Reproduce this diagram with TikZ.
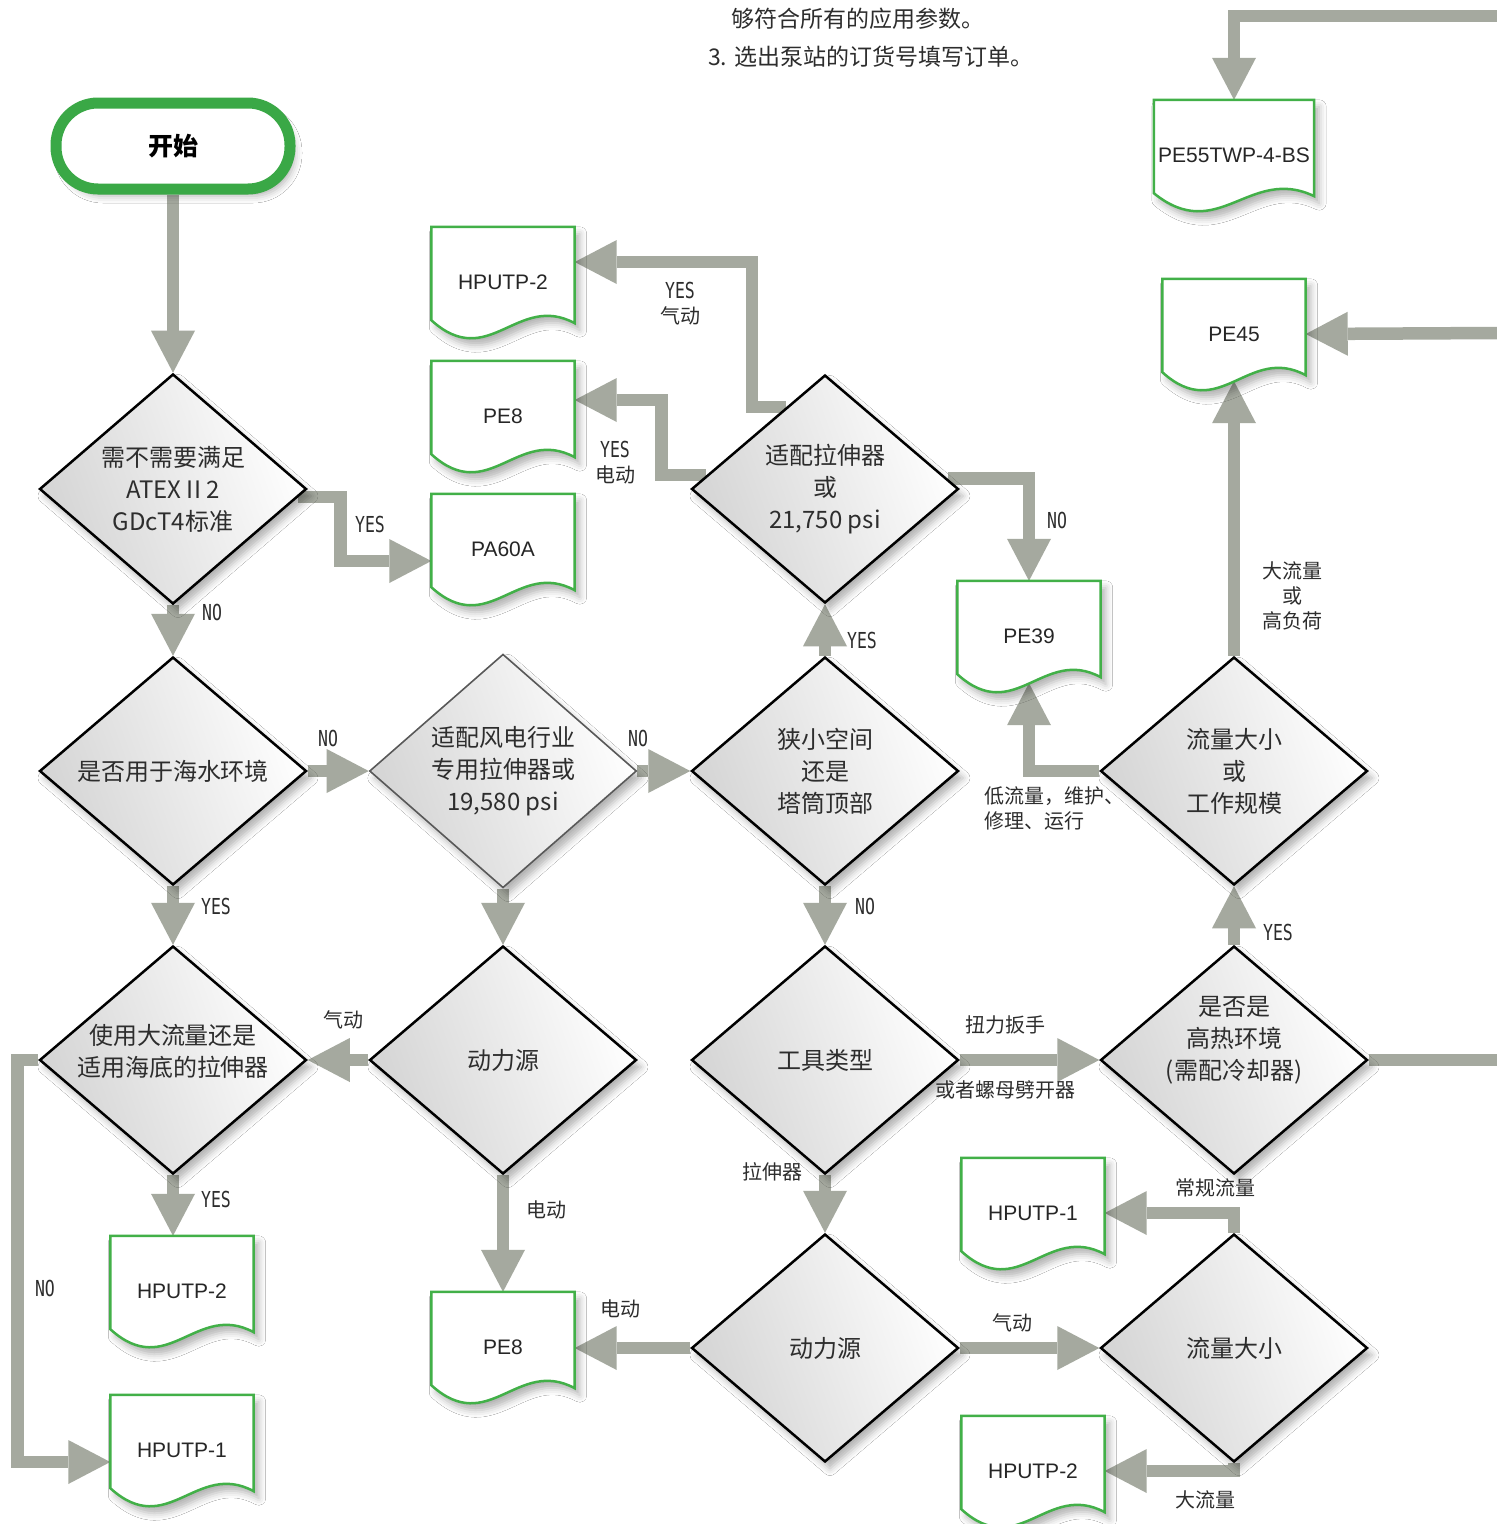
\documentclass[tikz,border=0pt]{standalone}
\usepackage{fontspec}
\setmainfont{Noto Sans CJK SC}
\newfontfamily\docf{Liberation Sans}
\newfontfamily\yesf[FakeStretch=0.75]{DejaVu Sans Mono}
\usetikzlibrary{shapes.geometric,arrows.meta,calc,shadows.blur}
\definecolor{agray}{RGB}{165,169,159}
\definecolor{dgreen}{RGB}{66,176,72}
\definecolor{sgreen}{RGB}{58,168,70}
\definecolor{txt}{RGB}{45,45,45}
\pgfdeclarelayer{conn}
\pgfdeclarelayer{docs}
\pgfsetlayers{conn,docs,main}
\tikzset{
 softshadow/.style={blur shadow={shadow xshift=5pt, shadow yshift=-7pt, shadow blur radius=7pt, shadow opacity=30}},
 dia/.style={diamond, draw=black, line width=2.5pt, minimum width=267pt, minimum height=228pt,
   inner sep=0pt, align=center, top color=white, bottom color=black!17, shading angle=-70,
   text=txt, font=\fontsize{24}{32}\selectfont, softshadow},
 diatext/.style={align=center, text=txt, font=\fontsize{24}{32}\selectfont, inner sep=0pt},
 doc/.style={rectangle, minimum width=143pt, minimum height=110pt, inner sep=0pt,
   font=\docf\fontsize{21}{25}\selectfont, text=black!85},
 docline/.style={draw=dgreen, line width=2.5pt, fill=white, line join=miter, softshadow},
 startn/.style={draw=sgreen, line width=11pt, fill=white, rounded corners=42pt,
   minimum width=234pt, minimum height=86pt, font=\bfseries\fontsize{25}{30}\selectfont, softshadow},
 conn/.style={draw=agray, line width=12.5pt, line join=miter,
   -{Triangle[width=44pt,length=42pt,line width=0pt]}},
 yes/.style={font=\yesf\fontsize{22}{26}\selectfont, text=txt, inner sep=1pt},
 lab/.style={font=\fontsize{20}{25}\selectfont, text=txt, inner sep=1pt},
 toptxt/.style={font=\fontsize{23}{28}\selectfont, text=txt, inner sep=0pt},
}
\newcommand\docout[1]{%
  \draw[docline] (#1.north west) -- (#1.north east) -- ($(#1.south east)+(0,-14)$)
   .. controls ($(#1.south east)!0.4!(#1.south west)+(0,-45)$)
   and ($(#1.south west)!0.4!(#1.south east)+(0,35)$) .. ($(#1.south west)+(0,-17)$) -- cycle;}
\begin{document}
\begin{tikzpicture}[x=1pt,y=-1pt]
\useasboundingbox (0,0) rectangle (1497,1524);

% top text
\node[toptxt, anchor=west] (t1) at (731,19) {够符合所有的应用参数。};
\node[toptxt, anchor=west] (t2) at (708,57) {3. 选出泵站的订货号填写订单。};

% start
\node[startn] (start) at (173,146) {开始};

% decisions
\node[dia] (D1) at (173,489) {需不需要满足\\ATEX II 2\\GDcT4标准};
\node[dia] (D2) at (173,771) {是否用于海水环境};
\node[dia, draw=black!65, line width=1.6pt] (D3) at (503,771) {适配风电行业\\专用拉伸器或\\19,580 psi};
\node[dia] (D4) at (825,771) {狭小空间\\还是\\塔筒顶部};
\node[dia] (D5) at (825,489) {适配拉伸器\\或\\21,750 psi};
\node[dia] (D6) at (173,1060) {};
\node[diatext] (D6t) at (173,1051) {使用大流量还是\\适用海底的拉伸器};
\node[dia] (D7) at (503,1060) {动力源};
\node[dia] (D8) at (825,1060) {工具类型};
\node[dia] (D9) at (1234,1060) {};
\node[diatext] (D9t) at (1234,1040) {是否是\\高热环境\\(需配冷却器)};
\node[dia] (D10) at (1234,771) {流量大小\\或\\工作规模};
\node[dia] (D11) at (825,1348) {动力源};
\node[dia] (D12) at (1234,1348) {流量大小};

% documents
\node[doc] (hp2a) at (503,282) {HPUTP-2};
\node[doc] (pe8a) at (503,416) {PE8};
\node[doc] (pa60a) at (503,549) {PA60A};
\node[doc, minimum width=160pt] (pe55) at (1234,155) {PE55TWP-4-BS};
\node[doc] (pe45) at (1234,334) {PE45};
\node[doc] (pe39) at (1029,636) {PE39};
\node[doc] (hp2b) at (182,1291) {HPUTP-2};
\node[doc] (hp1b) at (182,1450) {HPUTP-1};
\node[doc] (pe8b) at (503,1347) {PE8};
\node[doc] (hp1c) at (1033,1213) {HPUTP-1};
\node[doc] (hp2c) at (1033,1471) {HPUTP-2};

\begin{pgfonlayer}{docs}
\foreach \n in {hp2a,pe8a,pa60a,pe55,pe45,pe39,hp2b,hp1b,pe8b,hp1c,hp2c} {\docout{\n}}
\end{pgfonlayer}

% free ends at the picture border
\coordinate (tin) at (1497,16);
\coordinate (rin) at (1497,333);
\coordinate (rexit) at (1497,1060);

% labels
\node[yes] (y1) at (370,524) {YES};
\node[yes] (n1) at (212,612) {NO};
\node[yes] (n2) at (328,738) {NO};
\node[yes] (y2) at (216,906) {YES};
\node[yes] (n3) at (638,738) {NO};
\node[yes] (y3) at (862,640) {YES};
\node[yes] (n4) at (865,906) {NO};
\node[lab, align=center] (y4) at (680,304) {{\yesf\fontsize{22}{25}\selectfont YES}\\气动};
\node[lab, align=center] (y5) at (615,463) {{\yesf\fontsize{22}{25}\selectfont YES}\\电动};
\node[yes] (n5) at (1057,520) {NO};
\node[lab, align=left, anchor=west] (l1) at (983,808) {低流量，维护、\\修理、运行};
\node[lab, align=center] (l2) at (1292,596) {大流量\\或\\高负荷};
\node[yes] (y6) at (1278,932) {YES};
\node[lab] (l3) at (1005,1025) {扭力扳手};
\node[lab] (l4) at (1005,1090) {或者螺母劈开器};
\node[lab] (l5) at (772,1172) {拉伸器};
\node[lab] (l6) at (343,1020) {气动};
\node[lab] (l7) at (546,1210) {电动};
\node[yes] (y7) at (216,1199) {YES};
\node[yes] (n6) at (45,1288) {NO};
\node[lab] (l8) at (620,1309) {电动};
\node[lab] (l9) at (1012,1323) {气动};
\node[lab] (l10) at (1215,1188) {常规流量};
\node[lab] (l11) at (1205,1500) {大流量};

% connectors
\begin{pgfonlayer}{conn}
\fill[white] (0,0) rectangle (1497,1524);
\draw[conn] (start.south) -- (D1.north);
\draw[conn] ($(D1.east)!0.07!(D1.south)$) -- ++(42,0) |- ($(pa60a.west)+(0,12)$);
\draw[conn] (D1.south) -- (D2.north);
\draw[conn] (D2.east) -- (D3.west);
\draw[conn] (D2.south) -- (D6.north);
\draw[conn] (D3.east) -- (D4.west);
\draw[conn] (D3.south) -- (D7.north);
\draw[conn] (D4.north) -- (D5.south);
\draw[conn] (D4.south) -- (D8.north);
\draw[conn] ($(D5.west)!0.71!(D5.north)$) -- ++(-34,0) |- ($(hp2a.east)+(0,-20)$);
\draw[conn] ($(D5.west)!0.12!(D5.north)$) -- ++(-45,0) |- ($(pe8a.east)+(0,-16)$);
\draw[conn] ($(D5.east)!0.09!(D5.north)$) -| (pe39.north);
\draw[conn] (D10.west) -| ($(pe39.south)+(0,-8)$);
\draw[conn] (D10.north) -- ($(pe45.south)+(0,-8)$);
\draw[conn] (D9.north) -- (D10.south);
\draw[conn, arrows=-] (D9.east) -- (rexit);
\draw[conn] (rin) -- (pe45.east);
\draw[conn] (tin) -| (pe55.north);
\draw[conn] (D8.east) -- (D9.west);
\draw[conn] (D8.south) -- (D11.north);
\draw[conn] (D7.west) -- (D6.east);
\draw[conn] (D7.south) -- (pe8b.north);
\draw[conn] (D6.south) -- (D6.south |- hp2b.north);
\draw[conn] (D6.west) -- ++(-21,0) |- ($(hp1b.west)+(0,12)$);
\draw[conn] (D11.west) -- (D11.west -| pe8b.east);
\draw[conn] (D11.east) -- (D12.west);
\draw[conn] (D12.north) |- (hp1c.east);
\draw[conn] (D12.south) |- (hp2c.east);
\end{pgfonlayer}
\end{tikzpicture}
\end{document}
